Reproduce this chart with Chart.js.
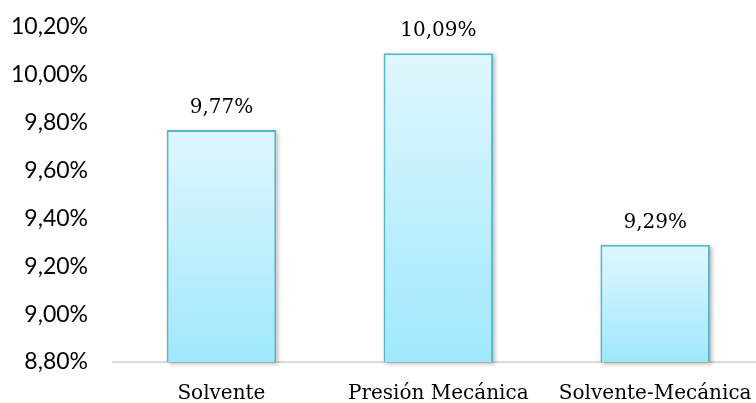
<!DOCTYPE html>
<html>
<head>
<meta charset="utf-8">
<script src="https://cdn.jsdelivr.net/npm/chart.js@4/dist/chart.umd.min.js"></script>
<style>
  html, body { margin: 0; padding: 0; background: #fff; overflow: hidden; }
  #wrap { width: 772px; height: 403px; }
</style>
</head>
<body>
<div id="wrap"><canvas id="grafico"></canvas></div>
<script>
// Datos del gráfico
const categorias = ['Solvente', 'Presión Mecánica', 'Solvente-Mecánica'];
const rendimiento = [9.77, 10.09, 9.29];
const ticksY = [8.8, 9.0, 9.2, 9.4, 9.6, 9.8, 10.0, 10.2];

const formatoPct = v => v.toFixed(2).replace('.', ',') + '%';

// Degradado vertical por barra (claro arriba, más intenso abajo)
function rellenoBarra(context) {
    const chart = context.chart;
    const area = chart.chartArea;
    if (!area) return '#c8f0fc';
    const yTop = chart.scales.y.getPixelForValue(context.raw);
    const g = chart.ctx.createLinearGradient(0, yTop, 0, area.bottom);
    g.addColorStop(0, '#e0f7fe');
    g.addColorStop(1, '#9fe8fc');
    return g;
}

// Sombra suave detrás de cada barra
const sombraBarras = {
    id: 'sombraBarras',
    beforeDatasetsDraw(chart) {
        const ctx = chart.ctx;
        const area = chart.chartArea;
        chart.getDatasetMeta(0).data.forEach(bar => {
            const fondo = Math.min(bar.base, area.bottom);
            ctx.save();
            ctx.shadowColor = 'rgba(0,0,0,0.28)';
            ctx.shadowBlur = 4;
            ctx.shadowOffsetX = 2;
            ctx.shadowOffsetY = 2;
            ctx.fillStyle = '#fff';
            ctx.fillRect(bar.x - bar.width / 2, bar.y, bar.width, fondo - bar.y);
            ctx.restore();
        });
    }
};

// Etiquetas de valor encima de las barras
const etiquetasValor = {
    id: 'etiquetasValor',
    afterDatasetsDraw(chart) {
        const ctx = chart.ctx;
        ctx.save();
        ctx.font = '20px "DejaVu Serif"';
        ctx.fillStyle = '#000';
        ctx.textAlign = 'center';
        ctx.textBaseline = 'alphabetic';
        chart.getDatasetMeta(0).data.forEach((bar, i) => {
            ctx.fillText(formatoPct(rendimiento[i]), bar.x, bar.y - 17);
        });
        ctx.restore();
    }
};

new Chart(document.getElementById('grafico'), {
    type: 'bar',
    data: {
        labels: categorias,
        datasets: [{
            data: rendimiento,
            backgroundColor: rellenoBarra,
            borderColor: '#55b5ce',
            borderWidth: 2,
            borderSkipped: false,
            barPercentage: 0.505,
            categoryPercentage: 1
        }]
    },
    options: {
        responsive: true,
        maintainAspectRatio: false,
        animation: false,
        layout: { padding: { top: 27, right: 3, left: 0, bottom: 0 } },
        plugins: { legend: { display: false }, tooltip: { enabled: false } },
        scales: {
            y: {
                min: 8.8, max: 10.2,
                afterBuildTicks: axis => { axis.ticks = ticksY.map(v => ({ value: v })); },
                afterFit: axis => {
                    axis.width = 113;
                    axis.paddingTop = 0;
                    axis.paddingBottom = 0;
                },
                grid: { display: false, drawTicks: false },
                border: { display: false },
                ticks: {
                    padding: 25,
                    color: '#000',
                    font: { family: 'Lato', size: 23 },
                    callback: v => formatoPct(v)
                }
            },
            x: {
                afterFit: axis => { axis.height = 41; },
                grid: { display: false, drawTicks: false },
                border: { display: true, color: '#d9d9d9', width: 2 },
                ticks: {
                    padding: 20,
                    color: '#000',
                    font: { family: 'DejaVu Serif', size: 20 }
                }
            }
        }
    },
    plugins: [sombraBarras, etiquetasValor]
});
</script>
</body>
</html>
